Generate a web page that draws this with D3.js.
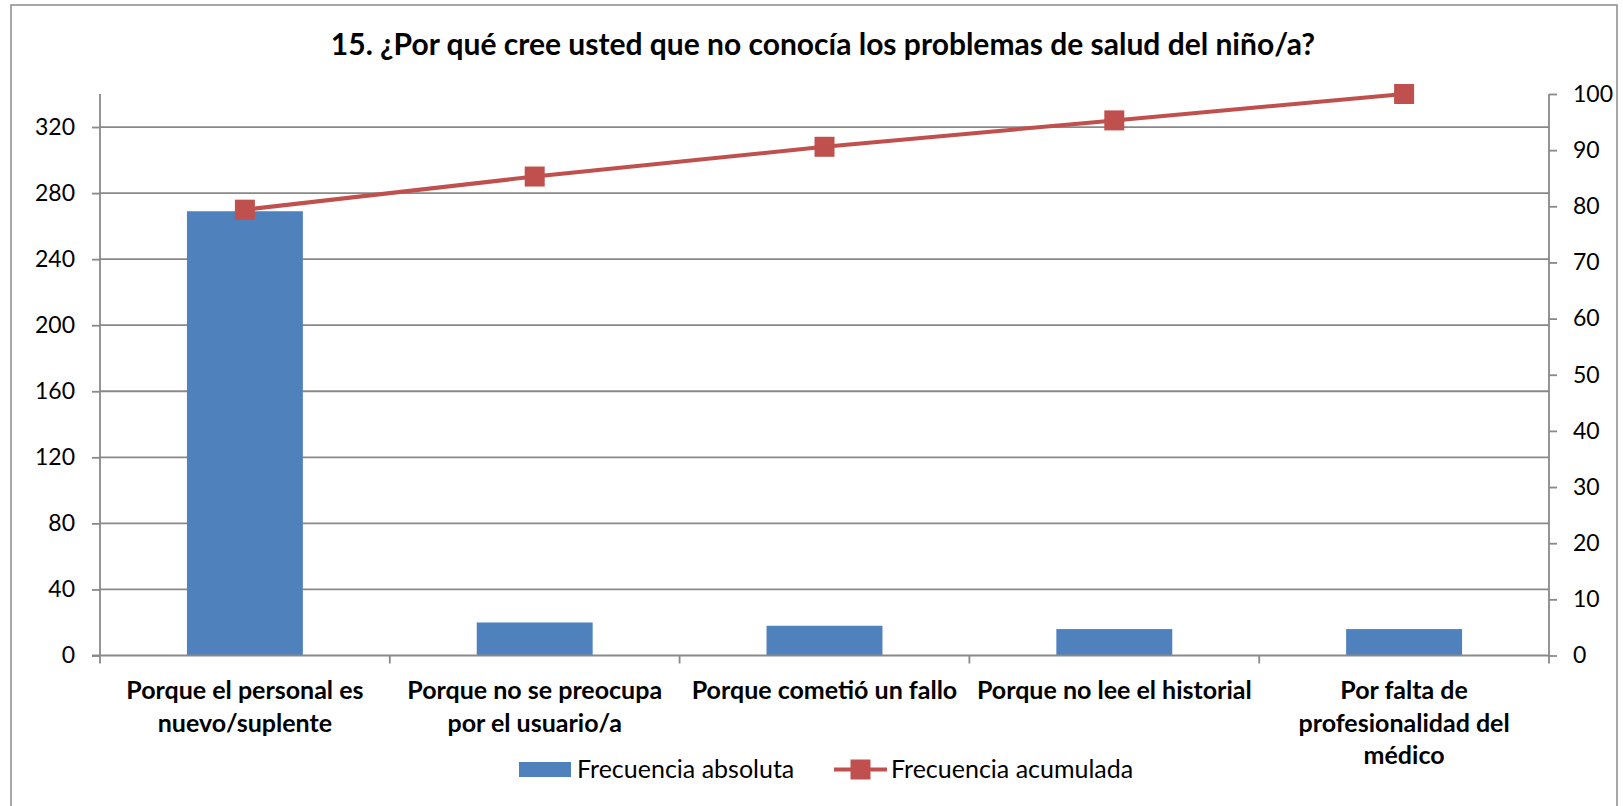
<!DOCTYPE html>
<html>
<head>
<meta charset="utf-8">
<script src="https://cdn.jsdelivr.net/npm/d3@7"></script>
<style>
  html, body { margin: 0; padding: 0; background: #fff; }
  svg { display: block; }
  text { font-family: Lato, "Open Sans", sans-serif; fill: #000; }
</style>
</head>
<body>
<svg id="chart" width="1623" height="806"></svg>
<script>
// ---- data ----
const chartTitle = "15. ¿Por qué cree usted que no conocía los problemas de salud del niño/a?";
const categories = [
  "Porque el personal es\nnuevo/suplente",
  "Porque no se preocupa\npor el usuario/a",
  "Porque cometió un fallo",
  "Porque no lee el historial",
  "Por falta de\nprofesionalidad del\nmédico"
];
const absoluteFreq = [269, 20, 18, 16, 16];
const cumulativePct = [79.4, 85.3, 90.6, 95.3, 100];
const leftTicks = [0, 40, 80, 120, 160, 200, 240, 280, 320];
const rightTicks = [0, 10, 20, 30, 40, 50, 60, 70, 80, 90, 100];
const seriesNames = ["Frecuencia absoluta", "Frecuencia acumulada"];

// ---- layout ----
const svg = d3.select("#chart");
const plot = { left: 100, right: 1549, top: 94, bottom: 655.5 };
const barColor = "#4F81BD", lineColor = "#C0504D", axisColor = "#898989";

// outer frame
svg.append("rect").attr("x", 11).attr("y", 5).attr("width", 1606).attr("height", 820)
  .attr("fill", "#fff").attr("stroke", "#8a8a8a").attr("stroke-width", 1.5);

const x = d3.scaleBand().domain(categories).range([plot.left, plot.right]).padding(0);
const yL = d3.scaleLinear().domain([0, 340]).range([plot.bottom, plot.top]);
const yR = d3.scaleLinear().domain([0, 100]).range([plot.bottom, plot.top]);

// gridlines
svg.append("g").selectAll("line").data(leftTicks.filter(d => d > 0)).join("line")
  .attr("x1", plot.left).attr("x2", plot.right)
  .attr("y1", d => yL(d)).attr("y2", d => yL(d))
  .attr("stroke", axisColor).attr("stroke-width", 1.8);

// bars
const bw = x.bandwidth();
svg.append("g").selectAll("rect").data(categories).join("rect")
  .attr("x", d => x(d) + bw * 0.3)
  .attr("width", bw * 0.4)
  .attr("y", (d, i) => yL(absoluteFreq[i]))
  .attr("height", (d, i) => yL(0) - yL(absoluteFreq[i]))
  .attr("fill", barColor);

// left axis
const gL = svg.append("g").attr("transform", `translate(${plot.left},0)`)
  .call(d3.axisLeft(yL).tickValues(leftTicks).tickSize(8).tickPadding(17).tickFormat(d3.format("d")));
gL.select(".domain").attr("stroke", axisColor).attr("stroke-width", 1.8).attr("d", `M0,${plot.top}V${plot.bottom}`);
gL.selectAll(".tick line").attr("stroke", axisColor).attr("stroke-width", 1.8);
gL.selectAll(".tick text").attr("font-size", 23).attr("font-family", "Lato").attr("fill", "#000");

// right axis
const gR = svg.append("g").attr("transform", `translate(${plot.right},0)`)
  .call(d3.axisRight(yR).tickValues(rightTicks).tickSize(8).tickPadding(16).tickFormat(d3.format("d")));
gR.select(".domain").attr("stroke", axisColor).attr("stroke-width", 1.8).attr("d", `M0,${plot.top}V${plot.bottom}`);
gR.selectAll(".tick line").attr("stroke", axisColor).attr("stroke-width", 1.8);
gR.selectAll(".tick text").attr("font-size", 23).attr("font-family", "Lato").attr("fill", "#000");

// bottom axis: line + ticks at band boundaries
svg.append("line").attr("x1", plot.left - 8).attr("x2", plot.right)
  .attr("y1", plot.bottom).attr("y2", plot.bottom)
  .attr("stroke", axisColor).attr("stroke-width", 1.8);
const boundaries = categories.map(c => x(c)).concat([x(categories[categories.length - 1]) + bw]);
svg.append("g").selectAll("line").data(boundaries).join("line")
  .attr("x1", d => d).attr("x2", d => d)
  .attr("y1", plot.bottom).attr("y2", plot.bottom + 8)
  .attr("stroke", axisColor).attr("stroke-width", 1.8);

// category labels
const labG = svg.append("g");
categories.forEach(c => {
  const t = labG.append("text").attr("x", x(c) + bw / 2).attr("y", 699)
    .attr("text-anchor", "middle").attr("font-size", 25).attr("font-weight", "bold");
  c.split("\n").forEach((ln, j) => {
    t.append("tspan").attr("x", x(c) + bw / 2).attr("dy", j === 0 ? 0 : 32.5).text(ln);
  });
});

// cumulative line
const line = d3.line().x((d, i) => x(categories[i]) + bw / 2).y(d => yR(d));
svg.append("path").datum(cumulativePct).attr("d", line)
  .attr("fill", "none").attr("stroke", lineColor).attr("stroke-width", 4).attr("stroke-linejoin", "round");
svg.append("g").selectAll("rect").data(cumulativePct).join("rect")
  .attr("x", (d, i) => x(categories[i]) + bw / 2 - 10)
  .attr("y", d => yR(d) - 10)
  .attr("width", 20).attr("height", 20)
  .attr("fill", lineColor);

// title
svg.append("text").attr("x", 823).attr("y", 55).attr("text-anchor", "middle")
  .attr("font-size", 30).attr("font-weight", "bold").text(chartTitle);

// legend
const leg = svg.append("g");
leg.append("rect").attr("x", 519).attr("y", 762).attr("width", 52).attr("height", 15).attr("fill", barColor);
leg.append("text").attr("x", 577).attr("y", 778).attr("font-size", 25).text(seriesNames[0]);
leg.append("line").attr("x1", 834).attr("x2", 887).attr("y1", 769.5).attr("y2", 769.5)
  .attr("stroke", lineColor).attr("stroke-width", 4);
leg.append("rect").attr("x", 850.5).attr("y", 759.5).attr("width", 20).attr("height", 20).attr("fill", lineColor);
leg.append("text").attr("x", 891).attr("y", 778).attr("font-size", 25).text(seriesNames[1]);
</script>
</body>
</html>
